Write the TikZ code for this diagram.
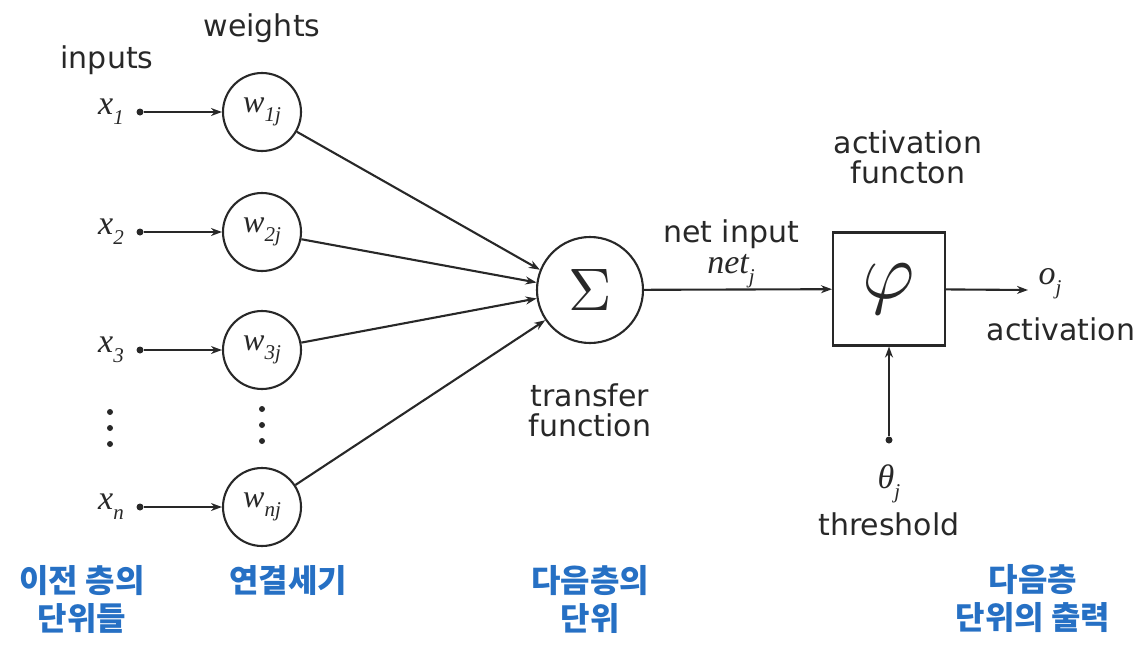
\documentclass[tikz,border=0pt]{standalone}
\usepackage{fontspec}
\setmainfont{DejaVu Sans}
\newfontfamily\kr{Noto Sans CJK KR}
\newfontfamily\mv{Liberation Serif}
\usetikzlibrary{arrows.meta}
\definecolor{korblue}{RGB}{38,112,196}
\definecolor{ink}{RGB}{40,40,40}
% italic variable with a lowered index
\newcommand\vsub[2]{{\mv\itshape #1\raisebox{-0.3em}{\fontsize{21}{21}\selectfont #2}}}
\begin{document}
\begin{tikzpicture}[x=1pt,y=-1pt,
  lbl/.style={font=\fontsize{30}{33}\selectfont, text=ink, align=center, inner sep=0},
  kor/.style={font=\kr\bfseries\fontsize{32}{38}\selectfont, text=korblue, align=center, inner sep=0},
  var/.style={font=\fontsize{34}{36}\selectfont, text=ink, inner sep=0},
  wnode/.style={circle, draw=ink, line width=2.1pt, minimum size=78pt, inner sep=0,
                font=\fontsize{32}{34}\selectfont, text=ink},
  link/.style={draw=ink, line width=2.1pt, -{Stealth[length=11pt,width=8pt]}},
  src/.style={circle, fill=ink, inner sep=0, minimum size=7pt},
  vdot/.style={circle, fill=ink, inner sep=0, minimum size=6pt},
]
\useasboundingbox (0,0) rectangle (1143,645);

% column headings
\node[lbl] (inp) at (107,60) {inputs};
\node[lbl] (wts) at (262,28) {weights};

% inputs and weights
\node[var, anchor=east] (x1) at (124,112) {\vsub{x}{1}};
\node[var, anchor=east] (x2) at (124,232) {\vsub{x}{2}};
\node[var, anchor=east] (x3) at (124,350) {\vsub{x}{3}};
\node[var, anchor=east] (xn) at (124,507) {\vsub{x}{n}};

\node[src] (s1) at (140,112) {};
\node[src] (s2) at (140,232) {};
\node[src] (s3) at (140,350) {};
\node[src] (sn) at (140,507) {};

\node[wnode] (w1) at (262,112) {\vsub{w}{1j}};
\node[wnode] (w2) at (262,232) {\vsub{w}{2j}};
\node[wnode] (w3) at (262,350) {\vsub{w}{3j}};
\node[wnode] (wn) at (262,507) {\vsub{w}{nj}};

\draw[link] (s1) -- (w1);
\draw[link] (s2) -- (w2);
\draw[link] (s3) -- (w3);
\draw[link] (sn) -- (wn);

% elision dots
\foreach \yy in {412,428,444} \node[vdot] at (110,\yy) {};
\foreach \yy in {409,425,441} \node[vdot] at (262,\yy) {};

% summation
\node[circle, draw=ink, line width=2.1pt, minimum size=106pt, inner sep=0, text=ink]
  (sig) at (590,290) {\scalebox{6}{$\Sigma$}};
\draw[link] (w1) -- (sig.158);
\draw[link] (w2) -- (sig.172);
\draw[link] (w3) -- (sig.189);
\draw[link] (wn) -- (sig.214);
\node[lbl] (tf) at (590,410) {transfer\\[-3pt]function};

% activation
\node[draw=ink, line width=2.1pt, minimum width=112pt, minimum height=113pt, inner sep=0, text=ink]
  (phi) at (889,289) {\scalebox{8}{$\varphi$}};
\draw[link] (sig) -- (phi);
\node[lbl] (ni) at (731,234) {net input};
\node[var] (net) at (731,271) {\vsub{net}{j}};
\node[lbl] (af) at (908,157) {activation\\[-3pt]functon};

% output
\coordinate (oend) at (1028,290);
\draw[link] (phi) -- (oend);
\node[var] (oj) at (1050,284) {\vsub{o}{j}};
\node[lbl] (act) at (1061,329) {activation};

% threshold
\node[src] (th) at (889,440) {};
\draw[link] (th) -- (phi);
\node[var] (thj) at (889,484) {\vsub{θ}{j}};
\node[lbl] (thr) at (889,524) {threshold};

% Korean captions
\node[kor] (k1) at (82,599) {이전 층의\\단위들};
\node[kor] (k2) at (288,580) {연결세기};
\node[kor] (k3) at (590,599) {다음층의\\단위};
\node[kor] (k4) at (1033,599) {다음층\\단위의 출력};
\end{tikzpicture}
\end{document}
